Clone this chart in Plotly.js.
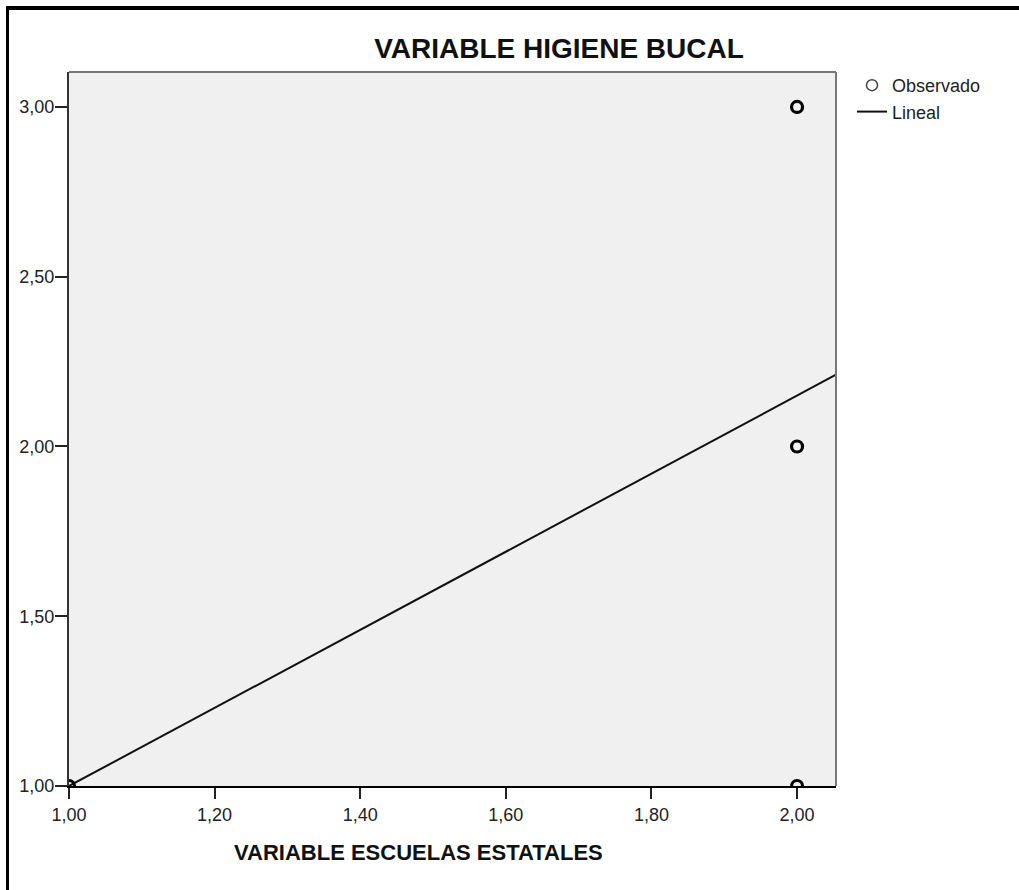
<!DOCTYPE html>
<html>
<head>
<meta charset="utf-8">
<script src="https://cdn.plot.ly/plotly-3.0.1.min.js"></script>
<style>
  html, body { margin: 0; padding: 0; background: #fff; }
  #wrap { position: relative; width: 1019px; height: 890px; }
  #chart { position: absolute; left: 0; top: 0; width: 1019px; height: 890px; }
  #frame { position: absolute; left: 6px; top: 6px; right: 0; bottom: 0;
           border-left: 3px solid #000; border-top: 4px solid #000; pointer-events: none; }
</style>
</head>
<body>
<div id="wrap">
  <div id="chart"></div>
  <div id="frame"></div>
</div>
<script>
// Observed values (x = VARIABLE ESCUELAS ESTATALES, y = VARIABLE HIGIENE BUCAL)
const observedX = [1.00, 2.00, 2.00, 2.00];
const observedY = [1.00, 1.00, 2.00, 3.00];

// Linear fit: fitted values at x = 1 and x = 2
const fitX = [1.00, 2.00];
const fitY = [1.00, 2.15];

const xRange = [1.0, 2.0535];
const yRange = [1.0, 3.103];

const slope = (fitY[1] - fitY[0]) / (fitX[1] - fitX[0]);
const intercept = fitY[0] - slope * fitX[0];
const lineX = [xRange[0], xRange[1]];
const lineY = lineX.map(v => intercept + slope * v);

const font = "Arial, 'Liberation Sans', sans-serif";

const traces = [
  {
    type: "scatter", mode: "lines", name: "Lineal",
    x: lineX, y: lineY,
    line: { color: "#111", width: 2 },
    showlegend: false, hoverinfo: "skip"
  },
  {
    type: "scatter", mode: "markers", name: "Observado",
    x: observedX, y: observedY,
    marker: { symbol: "circle-open", size: 11, color: "#000", line: { color: "#000", width: 3.2 } },
    showlegend: false, cliponaxis: true
  },
  {
    type: "scatter", mode: "markers", name: "Observado",
    x: [null], y: [null],
    marker: { symbol: "circle-open", size: 11, color: "#444", line: { color: "#444", width: 1.5 } }
  },
  {
    type: "scatter", mode: "lines", name: "Lineal",
    x: [null], y: [null],
    line: { color: "#111", width: 2 }
  }
];

const layout = {
  width: 1019, height: 890,
  margin: { l: 69, r: 183, t: 72, b: 104, pad: 0 },
  paper_bgcolor: "#ffffff",
  plot_bgcolor: "#f0f0f0",
  separators: ",.",
  font: { family: font, color: "#222", size: 18 },
  title: {
    text: "<b>VARIABLE HIGIENE BUCAL</b>",
    font: { family: font, size: 28, color: "#111" },
    x: 559 / 1019, xref: "container", xanchor: "center",
    y: 1 - 48 / 890, yref: "container", yanchor: "middle"
  },
  xaxis: {
    range: xRange, dtick: 0.2, tick0: 1, tickformat: ".2f",
    showgrid: false, zeroline: false,
    showline: true, linecolor: "#000", linewidth: 2,
    ticks: "outside", ticklen: 11, tickwidth: 2, tickcolor: "#222",
    tickfont: { family: font, size: 18, color: "#222" }
  },
  yaxis: {
    range: yRange, dtick: 0.5, tick0: 1, tickformat: ".2f",
    showgrid: false, zeroline: false,
    showline: true, linecolor: "#333", linewidth: 2,
    ticks: "outside", ticklen: 12, tickwidth: 2, tickcolor: "#222",
    ticklabelstandoff: -3,
    tickfont: { family: font, size: 18, color: "#222" }
  },
  annotations: [
    {
      text: "<b>VARIABLE ESCUELAS ESTATALES</b>",
      xref: "paper", yref: "paper",
      x: (418 - 69) / 767, y: -(852 - 786) / 714,
      xanchor: "center", yanchor: "middle", showarrow: false,
      font: { family: font, size: 22, color: "#111" }
    }
  ],
  shapes: [
    { type: "line", xref: "paper", yref: "paper", x0: 0, x1: 1, y0: 1, y1: 1,
      line: { color: "#777", width: 2 } },
    { type: "line", xref: "paper", yref: "paper", x0: 1, x1: 1, y0: 0, y1: 1,
      line: { color: "#777", width: 2 } }
  ],
  legend: {
    x: (852 - 69) / 767, xanchor: "left",
    y: 1 + 5 / 714, yanchor: "top",
    bgcolor: "rgba(0,0,0,0)", borderwidth: 0,
    font: { family: font, size: 18, color: "#222" },
    tracegroupgap: 0
  },
  showlegend: true
};

Plotly.newPlot("chart", traces, layout, { displayModeBar: false, staticPlot: true });
</script>
</body>
</html>
